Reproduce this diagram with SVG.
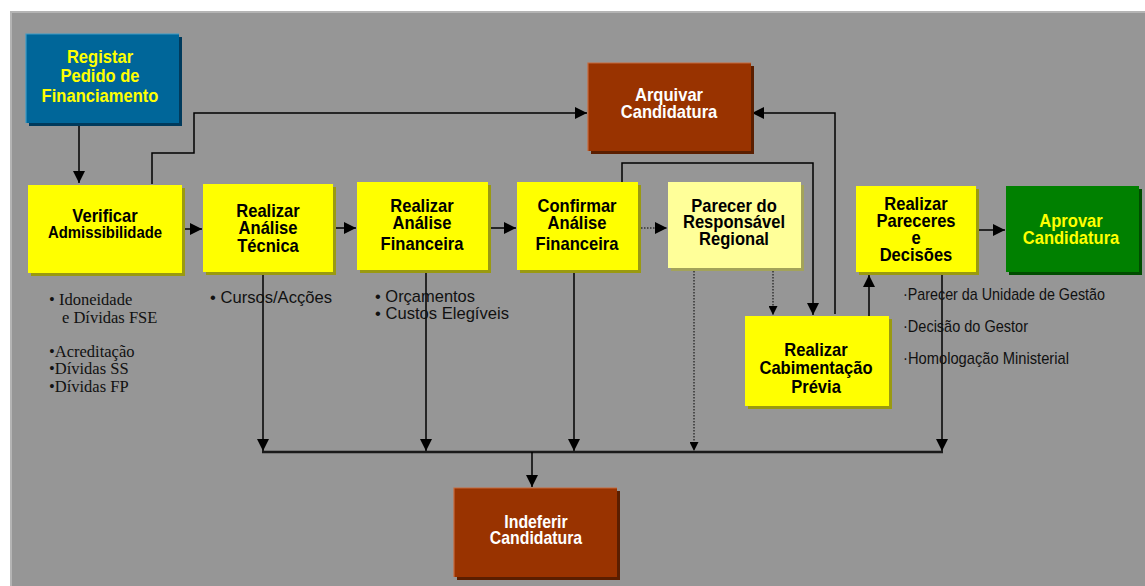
<svg xmlns="http://www.w3.org/2000/svg" width="1145" height="586" viewBox="0 0 1145 586">
<defs>
<style>
.t{font-family:"Liberation Sans",Arial,sans-serif;font-weight:bold;font-size:18px;text-anchor:middle}
.tk{fill:#000}
.ty{fill:#ffff00}
.tw{fill:#fff}
.yel{fill:#ffff00}
.ysh{fill:#9a9a10}
.ln{fill:none;stroke:#000;stroke-width:1.5}
.dot{fill:none;stroke:#000;stroke-width:1;stroke-dasharray:1.5 1.5}
.ann{font-family:"Liberation Sans",Arial,sans-serif;font-size:17px;fill:#111}
.ser{font-family:"Liberation Serif","Times New Roman",serif;font-size:16.5px;fill:#111}
</style>
<marker id="ah" viewBox="0 0 10 10" refX="10" refY="5" markerWidth="12" markerHeight="12" markerUnits="userSpaceOnUse" orient="auto">
<path d="M0,0 L10,5 L0,10 z" fill="#000"/>
</marker>
<marker id="ahs" viewBox="0 0 10 10" refX="10" refY="5" markerWidth="12" markerHeight="9" markerUnits="userSpaceOnUse" orient="auto">
<path d="M0,0 L10,5 L0,10 z" fill="#000"/>
</marker>
</defs>
<rect x="0" y="0" width="1145" height="586" fill="#fff"/>
<rect x="10" y="11" width="1135" height="575" fill="#b4b4b4"/>
<rect x="12" y="13" width="1133" height="573" fill="#969696"/>

<g id="connectors">
<path class="ln" d="M79,123 V183" marker-end="url(#ah)"/>
<path class="ln" d="M152,184 V153 H194 V113 H587" marker-end="url(#ah)"/>
<path class="ln" d="M182,229 H202" marker-end="url(#ah)"/>
<path class="ln" d="M333,228 H356" marker-end="url(#ah)"/>
<path class="ln" d="M488,228 H516" marker-end="url(#ah)"/>
<path class="dot" d="M638,228 H667" marker-end="url(#ah)"/>
<path class="ln" d="M622,182 V163 H813 V315" marker-end="url(#ah)"/>
<path class="dot" d="M773,268 V315" marker-end="url(#ahs)"/>
<path class="ln" d="M835,314 V113 H752" marker-end="url(#ah)"/>
<path class="ln" d="M869,316 V275" marker-end="url(#ah)"/>
<path class="ln" d="M976,230 H1005" marker-end="url(#ah)"/>
<path class="ln" d="M263,272 V451" marker-end="url(#ah)"/>
<path class="ln" d="M426,270 V451" marker-end="url(#ah)"/>
<path class="ln" d="M574,270 V451" marker-end="url(#ah)"/>
<path class="dot" d="M694,268 V451" marker-end="url(#ahs)"/>
<path class="ln" d="M942,272 V451" marker-end="url(#ah)"/>
<path fill="none" stroke="#1a1a1a" stroke-width="2.5" d="M262,452 H943"/>
<path class="ln" d="M532,452 V487" marker-end="url(#ah)"/>
</g>

<g id="registar">
<rect x="29" y="37" width="153" height="89" fill="#003a5c"/>
<rect x="26" y="34" width="153" height="89" fill="#006699"/>
<path d="M26,123 V34 H179" fill="none" stroke="#3c9cc8" stroke-width="1.2"/>
<text class="t ty" transform="translate(100 63) scale(0.92 1)">Registar</text>
<text class="t ty" transform="translate(100 82) scale(0.92 1)">Pedido de</text>
<text class="t ty" transform="translate(100 102) scale(0.92 1)">Financiamento</text>
</g>

<g id="verificar">
<rect class="ysh" x="31" y="188" width="154" height="88"/>
<rect class="yel" x="28" y="185" width="154" height="88"/>
<text class="t tk" transform="translate(105 222) scale(0.92 1)">Verificar</text>
<text class="t tk" transform="translate(105 238) scale(0.92 1)" style="font-size:16.2px">Admissibilidade</text>
</g>

<g id="tecnica">
<rect class="ysh" x="206" y="187" width="130" height="88"/>
<rect class="yel" x="203" y="184" width="130" height="88"/>
<text class="t tk" transform="translate(268 217) scale(0.92 1)">Realizar</text>
<text class="t tk" transform="translate(268 234) scale(0.92 1)">Análise</text>
<text class="t tk" transform="translate(268 252) scale(0.92 1)">Técnica</text>
</g>

<g id="financeira">
<rect class="ysh" x="360" y="185" width="131" height="88"/>
<rect class="yel" x="357" y="182" width="131" height="88"/>
<text class="t tk" transform="translate(422 212) scale(0.92 1)">Realizar</text>
<text class="t tk" transform="translate(422 229) scale(0.92 1)">Análise</text>
<text class="t tk" transform="translate(422 250) scale(0.92 1)">Financeira</text>
</g>

<g id="confirmar">
<rect class="ysh" x="520" y="185" width="121" height="88"/>
<rect class="yel" x="517" y="182" width="121" height="88"/>
<text class="t tk" transform="translate(577 212) scale(0.92 1)">Confirmar</text>
<text class="t tk" transform="translate(577 229) scale(0.92 1)">Análise</text>
<text class="t tk" transform="translate(577 250) scale(0.92 1)">Financeira</text>
</g>

<g id="parecer">
<rect x="671" y="185" width="133" height="86" fill="#a3a35a"/>
<rect x="668" y="182" width="133" height="86" fill="#ffff99"/>
<text class="t tk" transform="translate(734 212) scale(0.92 1)">Parecer do</text>
<text class="t tk" transform="translate(734 228) scale(0.92 1)">Responsável</text>
<text class="t tk" transform="translate(734 245) scale(0.92 1)">Regional</text>
</g>

<g id="pareceres">
<rect class="ysh" x="859" y="189" width="120" height="86"/>
<rect class="yel" x="856" y="186" width="120" height="86"/>
<text class="t tk" transform="translate(916 210) scale(0.92 1)">Realizar</text>
<text class="t tk" transform="translate(916 227) scale(0.92 1)">Pareceres</text>
<text class="t tk" transform="translate(916 244) scale(0.92 1)">e</text>
<text class="t tk" transform="translate(916 261) scale(0.92 1)">Decisões</text>
</g>

<g id="aprovar">
<rect x="1009" y="189" width="133" height="86" fill="#004d00"/>
<rect x="1006" y="186" width="133" height="86" fill="#008000"/>
<text class="t ty" transform="translate(1071 227) scale(0.92 1)">Aprovar</text>
<text class="t ty" transform="translate(1071 244) scale(0.92 1)">Candidatura</text>
</g>

<g id="arquivar">
<rect x="591" y="66" width="163" height="88" fill="#5a1e00"/>
<rect x="588" y="63" width="163" height="88" fill="#993300"/>
<path d="M588,151 V63 H751" fill="none" stroke="#c86a3c" stroke-width="1.2"/>
<text class="t tw" transform="translate(669 101) scale(0.92 1)">Arquivar</text>
<text class="t tw" transform="translate(669 118) scale(0.92 1)">Candidatura</text>
</g>

<g id="cabimentacao">
<rect class="ysh" x="748" y="319" width="144" height="90"/>
<rect class="yel" x="745" y="316" width="144" height="90"/>
<text class="t tk" transform="translate(816 356) scale(0.92 1)">Realizar</text>
<text class="t tk" transform="translate(816 374) scale(0.92 1)">Cabimentação</text>
<text class="t tk" transform="translate(816 393) scale(0.92 1)">Prévia</text>
</g>

<g id="indeferir">
<rect x="457" y="491" width="163" height="89" fill="#5a1e00"/>
<rect x="454" y="488" width="163" height="89" fill="#993300"/>
<path d="M454,577 V488 H617" fill="none" stroke="#c86a3c" stroke-width="1.2"/>
<text class="t tw" transform="translate(536 528) scale(0.88 1)">Indeferir</text>
<text class="t tw" transform="translate(536 544) scale(0.88 1)">Candidatura</text>
</g>

<g id="annotations">
<text class="ser" x="49" y="305">• Idoneidade</text>
<text class="ser" x="62" y="323">e Dívidas FSE</text>
<text class="ser" x="49" y="357">•Acreditação</text>
<text class="ser" x="49" y="374">•Dívidas SS</text>
<text class="ser" x="49" y="392">•Dívidas FP</text>
<text class="ann" x="210" y="303" textLength="122" lengthAdjust="spacingAndGlyphs">• Cursos/Acções</text>
<text class="ann" x="375" y="302" textLength="100" lengthAdjust="spacingAndGlyphs">• Orçamentos</text>
<text class="ann" x="375" y="319" textLength="134" lengthAdjust="spacingAndGlyphs">• Custos Elegíveis</text>
<text class="ann" x="903" y="300" textLength="202" lengthAdjust="spacingAndGlyphs">·Parecer da Unidade de Gestão</text>
<text class="ann" x="903" y="332" textLength="125" lengthAdjust="spacingAndGlyphs">·Decisão do Gestor</text>
<text class="ann" x="903" y="364" textLength="166" lengthAdjust="spacingAndGlyphs">·Homologação Ministerial</text>
</g>
</svg>
